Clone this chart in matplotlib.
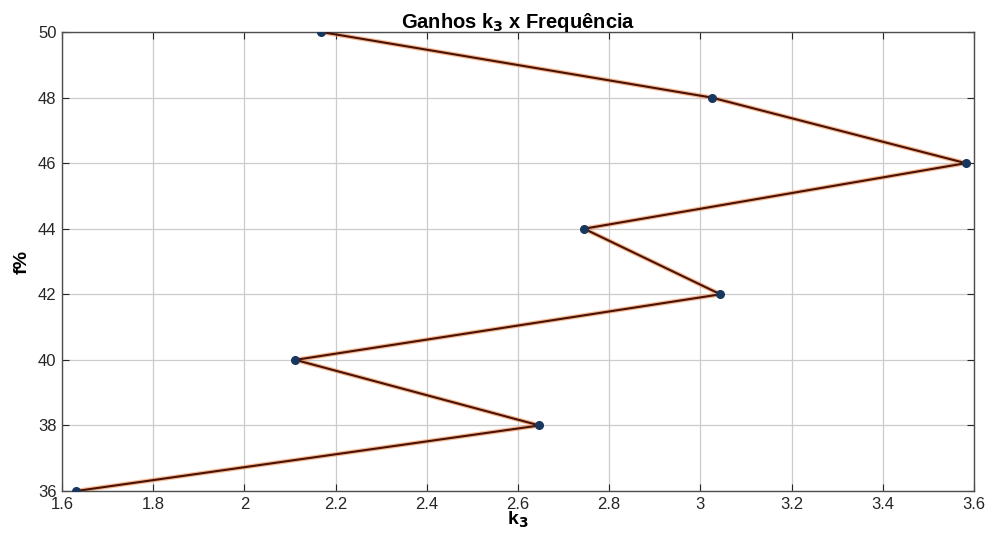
import matplotlib.pyplot as plt

# values
k3 = [1.631, 2.647, 2.112, 3.044, 2.745, 3.582, 3.025, 2.169]
freq = [36, 38, 40, 42, 44, 46, 48, 50]
xticks = [1.6, 1.8, 2.0, 2.2, 2.4, 2.6, 2.8, 3.0, 3.2, 3.4, 3.6]
xtick_labels = ["1.6", "1.8", "2", "2.2", "2.4", "2.6", "2.8", "3", "3.2", "3.4", "3.6"]
yticks = [36, 38, 40, 42, 44, 46, 48, 50]

plt.rcParams["font.family"] = ["Liberation Sans", "DejaVu Sans"]

fig = plt.figure(figsize=(9.9, 5.4), dpi=100)
ax = fig.add_axes([0.0626, 0.0907, 0.9212, 0.85])

# orange halo under a dark line, like the original
ax.plot(k3, freq, color="#f08a4b", lw=3.2, alpha=0.6, solid_capstyle="round", zorder=2)
ax.plot(k3, freq, color="#4a1205", lw=1.5, zorder=3)
ax.plot(k3, freq, linestyle="none", marker="o", ms=5.5, color="#17375e", zorder=4)

ax.set_xlim(1.6, 3.6)
ax.set_ylim(36, 50)
ax.set_xticks(xticks)
ax.set_xticklabels(xtick_labels)
ax.set_yticks(yticks)
ax.grid(True, color="#cccccc", lw=0.9)
ax.tick_params(direction="in", top=True, right=True, labelsize=12,
               length=5, colors="#262626", pad=4)
for s in ax.spines.values():
    s.set_color("#4d4d4d")
    s.set_linewidth(1.0)

ax.set_title(r"Ganhos k$_\mathbf{3}$ x Frequência", fontsize=14.5, fontweight="bold", pad=3)
ax.set_xlabel(r"k$_\mathbf{3}$", fontsize=14, fontweight="bold", labelpad=-1)
ax.set_ylabel("f%", fontsize=14, fontweight="bold", labelpad=5)

fig.savefig("out.png", dpi=100)
